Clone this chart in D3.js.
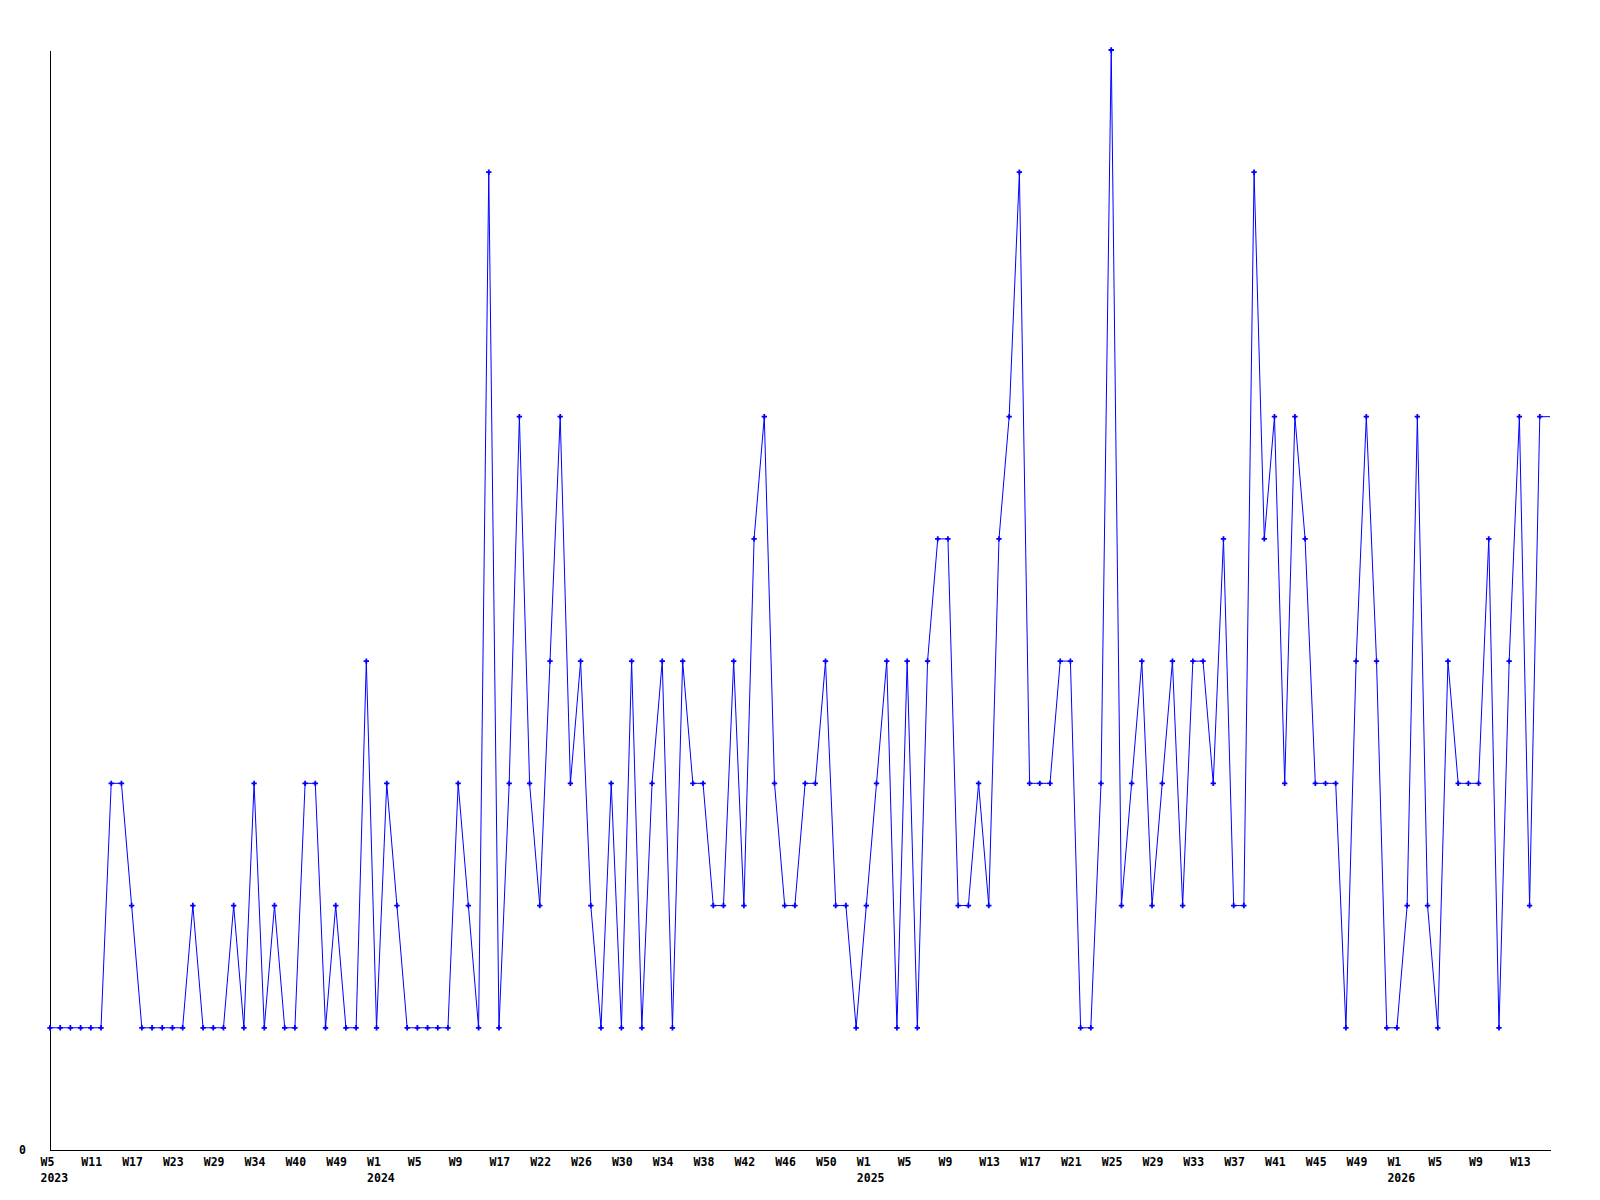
<!DOCTYPE html>
<html>
<head>
<meta charset="utf-8">
<script src="https://cdn.jsdelivr.net/npm/d3@7"></script>
<style>
  body { margin: 0; background: #fff; }
  text { font-family: "DejaVu Sans Mono", monospace; font-weight: bold; font-size: 11.5px; fill: #000; }
</style>
</head>
<body>
<script>
// Weekly counts, one value per point (left to right)
const values = [
  1, 1, 1, 1, 1, 1, 3, 3, 2, 1, 1, 1, 1, 1, 2, 1, 1, 1, 2, 1,
  3, 1, 2, 1, 1, 3, 3, 1, 2, 1, 1, 4, 1, 3, 2, 1, 1, 1, 1, 1,
  3, 2, 1, 8, 1, 3, 6, 3, 2, 4, 6, 3, 4, 2, 1, 3, 1, 4, 1, 3,
  4, 1, 4, 3, 3, 2, 2, 4, 2, 5, 6, 3, 2, 2, 3, 3, 4, 2, 2, 1,
  2, 3, 4, 1, 4, 1, 4, 5, 5, 2, 2, 3, 2, 5, 6, 8, 3, 3, 3, 4,
  4, 1, 1, 3, 9, 2, 3, 4, 2, 3, 4, 2, 4, 4, 3, 5, 2, 2, 8, 5,
  6, 3, 6, 5, 3, 3, 3, 1, 4, 6, 4, 1, 1, 2, 6, 2, 1, 4, 3, 3,
  3, 5, 1, 4, 6, 2, 6
];

// Labels shown under every 4th point
const weekLabels = [
  "W5", "W11", "W17", "W23", "W29", "W34", "W40", "W49",
  "W1", "W5", "W9", "W17", "W22", "W26", "W30", "W34", "W38", "W42", "W46", "W50",
  "W1", "W5", "W9", "W13", "W17", "W21", "W25", "W29", "W33", "W37", "W41", "W45", "W49",
  "W1", "W5", "W9", "W13"
];
const yearLabels = [
  "2023", "", "", "", "", "", "", "",
  "2024", "", "", "", "", "", "", "", "", "", "", "",
  "2025", "", "", "", "", "", "", "", "", "", "", "", "",
  "2026", "", "", ""
];
const labelStep = 4;
const yMax = 9;

const width = 1600, height = 1200;
const margin = {top: 50, right: 50, bottom: 50, left: 50};

const svg = d3.select("body").append("svg")
  .attr("width", width)
  .attr("height", height);

// one extra slot on the right: the line runs on flat to the end of the axis
const x = d3.scaleLinear()
  .domain([0, values.length])
  .range([margin.left, width - margin.right]);

const y = d3.scaleLinear()
  .domain([0, yMax])
  .range([height - margin.bottom, margin.top]);

// x axis
const xAxis = svg.append("g")
  .attr("transform", `translate(0,${height - margin.bottom})`)
  .call(d3.axisBottom(x)
    .tickValues(weekLabels.map((d, i) => i * labelStep))
    .tickSize(0)
    .tickSizeOuter(0)
    .tickFormat(""));

xAxis.select(".domain").attr("stroke", "#000").attr("shape-rendering", "crispEdges");

xAxis.selectAll(".tick text").each(function(d, i) {
  const t = d3.select(this)
    .attr("text-anchor", "start")
    .attr("x", -10)
    .attr("y", 16)
    .attr("dy", null);
  t.append("tspan").attr("x", -10).attr("y", 16).text(weekLabels[i]);
  if (yearLabels[i]) t.append("tspan").attr("x", -10).attr("y", 32).text(yearLabels[i]);
});

// y axis, only the zero label
const yAxis = svg.append("g")
  .attr("transform", `translate(${margin.left},0)`)
  .call(d3.axisLeft(y).tickValues([0]).tickSize(0).tickSizeOuter(0).tickPadding(24));

yAxis.select(".domain").attr("stroke", "#000").attr("shape-rendering", "crispEdges");
yAxis.selectAll(".tick text").attr("dy", "0.3em");

// line, with the last value carried to the right edge
const lineData = values.map((v, i) => [i, v]).concat([[values.length, values[values.length - 1]]]);

svg.append("path")
  .datum(lineData)
  .attr("fill", "none")
  .attr("stroke", "#0000ff")
  .attr("stroke-width", 1)
  .attr("d", d3.line().x(d => x(d[0])).y(d => y(d[1])));

// markers
svg.append("g")
  .selectAll("path")
  .data(values)
  .join("path")
  .attr("transform", (d, i) => `translate(${x(i)},${y(d)})`)
  .attr("d", d3.symbol(d3.symbolCross).size(16))
  .attr("fill", "#0000ff");
</script>
</body>
</html>
